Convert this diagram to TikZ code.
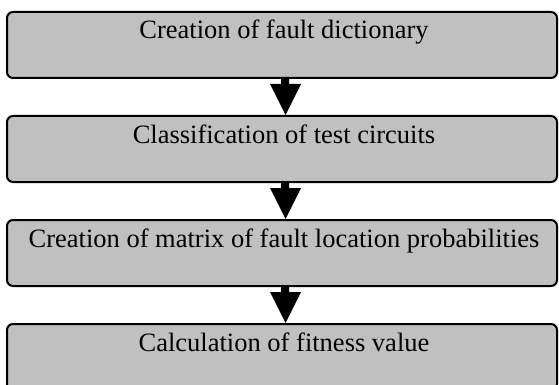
\documentclass[tikz,border=0pt]{standalone}
\usepackage{fontspec}
\setmainfont{Liberation Serif}
\usetikzlibrary{positioning}
\definecolor{boxgray}{HTML}{C0C0C0}
\tikzset{
  stage/.style={draw, line width=2pt, fill=boxgray, rounded corners=6pt,
    minimum width=550pt, minimum height=66pt, inner sep=0pt},
  stagetext/.style={anchor=base, inner sep=0pt, font=\fontsize{26.5}{30}\selectfont},
}
% block arrow from the bottom of one box to the top of the next
\newcommand{\blockarrow}[2]{%
  \fill ([xshift=-1pt]#1.south) -- ([xshift=-1pt,yshift=-5pt]#1.south) -- ([xshift=-12pt,yshift=-5pt]#1.south)
    -- ([xshift=3.5pt]#2.north) -- ([xshift=19pt,yshift=-5pt]#1.south)
    -- ([xshift=7pt,yshift=-5pt]#1.south) -- ([xshift=7pt]#1.south) -- cycle;}
\begin{document}
\begin{tikzpicture}[x=1pt, y=-1pt, node distance=36pt]
  \useasboundingbox (0,0) rectangle (559,385);

  % boxes
  \node[stage] (s1) at (282,45) {};
  \node[stage, below=of s1] (s2) {};
  \node[stage, below=of s2] (s3) {};
  \node[stage, below=of s3] (s4) {};

  % texts
  \node[stagetext] (t1) at ([xshift=2pt,yshift=-28pt]s1.north) {Creation of fault dictionary};
  \node[stagetext] (t2) at ([xshift=2pt,yshift=-28pt]s2.north) {Classification of test circuits};
  \node[stagetext] (t3) at ([xshift=2pt,yshift=-28pt]s3.north) {Creation of matrix of fault location probabilities};
  \node[stagetext] (t4) at ([xshift=2pt,yshift=-28pt]s4.north) {Calculation of fitness value};

  % arrows
  \blockarrow{s1}{s2}
  \blockarrow{s2}{s3}
  \blockarrow{s3}{s4}
\end{tikzpicture}
\end{document}
